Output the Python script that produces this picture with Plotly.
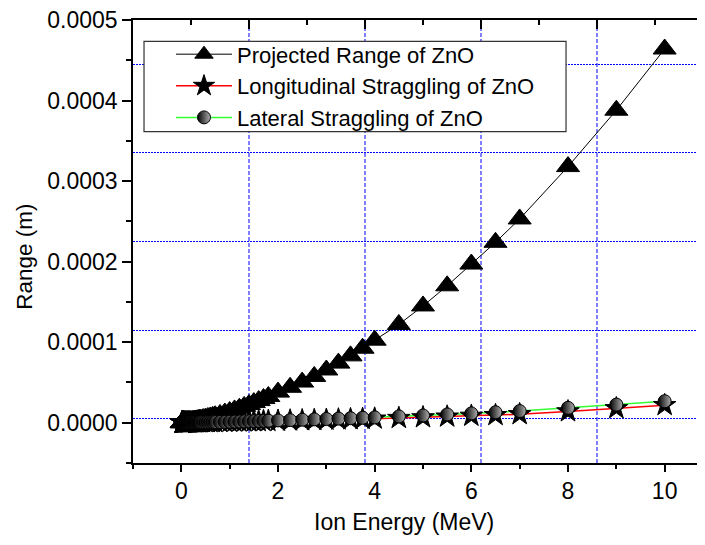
import plotly.graph_objects as go

# Ion energy (MeV)
energy_mev = [0.010, 0.011, 0.012, 0.013, 0.014, 0.015, 0.016, 0.017, 0.018, 0.020,
              0.0225, 0.025, 0.0275, 0.030, 0.0325, 0.035, 0.0375, 0.040, 0.045, 0.050,
              0.055, 0.060, 0.065, 0.070, 0.080, 0.090, 0.100, 0.110, 0.120, 0.130,
              0.140, 0.150, 0.160, 0.170, 0.180, 0.200, 0.225, 0.250, 0.275, 0.300,
              0.325, 0.350, 0.375, 0.400, 0.450, 0.500, 0.550, 0.600, 0.650, 0.700,
              0.800, 0.900, 1.00, 1.10, 1.20, 1.30, 1.40, 1.50, 1.60, 1.70,
              1.80, 2.00, 2.25, 2.50, 2.75, 3.00, 3.25, 3.50, 3.75, 4.00,
              4.50, 5.00, 5.50, 6.00, 6.50, 7.00, 8.00, 9.00, 10.00]

# Projected range (micrometres)
projected_um = [0.145, 0.16, 0.17, 0.18, 0.195, 0.21, 0.22, 0.23, 0.245, 0.27,
                0.30, 0.33, 0.36, 0.39, 0.42, 0.45, 0.48, 0.51, 0.57, 0.63,
                0.68, 0.74, 0.80, 0.85, 0.96, 1.07, 1.18, 1.29, 1.40, 1.50,
                1.62, 1.72, 1.85, 1.95, 2.05, 2.30, 2.55, 2.85, 3.10, 3.40,
                3.70, 4.00, 4.30, 4.60, 5.20, 5.85, 6.50, 7.20, 7.90, 8.70,
                10.3, 12.0, 13.9, 15.9, 18.0, 20.3, 22.6, 25.0, 27.5, 30.0,
                32.6, 38.0, 44.0, 50.5, 57.5, 65.5, 74.0, 83.0, 92.5, 102.5,
                122.0, 145.0, 170.0, 197.0, 224.0, 253.0, 318.0, 388.0, 464.0]

# Longitudinal straggling (micrometres)
longitudinal_um = [0.033, 0.035, 0.037, 0.039, 0.041, 0.043, 0.045, 0.047, 0.049, 0.052,
                   0.056, 0.060, 0.063, 0.066, 0.069, 0.072, 0.075, 0.078, 0.085, 0.090,
                   0.095, 0.100, 0.105, 0.110, 0.120, 0.130, 0.140, 0.150, 0.160, 0.170,
                   0.180, 0.190, 0.200, 0.210, 0.220, 0.240, 0.260, 0.290, 0.310, 0.340,
                   0.360, 0.390, 0.410, 0.440, 0.490, 0.540, 0.590, 0.640, 0.700, 0.750,
                   0.860, 0.980, 1.10, 1.22, 1.33, 1.45, 1.58, 1.70, 1.80, 1.95,
                   2.05, 2.30, 2.60, 2.90, 3.20, 3.55, 3.90, 4.25, 4.60, 5.00,
                   5.80, 6.60, 7.50, 8.50, 9.40, 10.5, 14.0, 17.9, 21.8]

# Lateral straggling (micrometres)
lateral_um = [0.034, 0.036, 0.038, 0.040, 0.042, 0.044, 0.046, 0.048, 0.050, 0.053,
              0.057, 0.060, 0.064, 0.067, 0.070, 0.073, 0.076, 0.079, 0.086, 0.092,
              0.098, 0.104, 0.110, 0.115, 0.125, 0.135, 0.145, 0.155, 0.165, 0.175,
              0.185, 0.195, 0.205, 0.215, 0.225, 0.245, 0.270, 0.300, 0.320, 0.350,
              0.380, 0.400, 0.430, 0.460, 0.510, 0.570, 0.630, 0.690, 0.750, 0.810,
              0.940, 1.08, 1.22, 1.37, 1.52, 1.68, 1.84, 2.00, 2.16, 2.33,
              2.50, 2.85, 3.25, 3.70, 4.15, 4.60, 5.10, 5.60, 6.10, 6.60,
              7.80, 9.00, 10.3, 11.6, 13.0, 14.5, 18.5, 22.5, 26.7]

series_names = ["Projected Range of ZnO", "Longitudinal Straggling of ZnO",
                "Lateral Straggling of ZnO"]

y_tick_vals = [0.0, 0.0001, 0.0002, 0.0003, 0.0004, 0.0005]
y_tick_text = ["0.0000", "0.0001", "0.0002", "0.0003", "0.0004", "0.0005"]
x_tick_vals = [0, 2, 4, 6, 8, 10]

x_range = [-1, 11]
y_range = [-0.00005, 0.0005]

to_m = 1e-6
projected = [v * to_m for v in projected_um]
longitudinal = [v * to_m for v in longitudinal_um]
lateral = [v * to_m for v in lateral_um]

FONT = "Liberation Sans, Arial, sans-serif"

# frame divisions (top / right axes split the ranges into 5 parts)
n_div = 5
x_step = (x_range[1] - x_range[0]) / n_div
y_step = (y_range[1] - y_range[0]) / n_div
top_major = [x_range[0] + k * x_step for k in range(1, n_div)]
right_major = [y_range[0] + k * y_step for k in range(1, n_div)]

line_colors = ["black", "#ff0000", "#33ff33"]
line_widths = [1, 1.5, 1.5]
marker_styles = [
    dict(symbol="triangle-up", size=20, color="black", line=dict(color="black", width=1)),
    dict(symbol="star", size=17, color="black", line=dict(color="black", width=1)),
    dict(symbol="circle", size=13, color="black", line=dict(color="black", width=1),
         gradient=dict(type="horizontal", color="#b0b0b0")),
]
ys = [projected, longitudinal, lateral]

fig = go.Figure()

# connecting lines underneath all markers
for y, c, w in zip(ys, line_colors, line_widths):
    fig.add_trace(go.Scatter(x=energy_mev, y=y, mode="lines",
                             line=dict(color=c, width=w),
                             showlegend=False, hoverinfo="skip"))
# markers
for y, m in zip(ys, marker_styles):
    fig.add_trace(go.Scatter(x=energy_mev, y=y, mode="markers", marker=m,
                             showlegend=False))
# legend entries
for name, c, w, m in zip(series_names, line_colors, line_widths, marker_styles):
    fig.add_trace(go.Scatter(x=[None], y=[None], mode="lines+markers", name=name,
                             line=dict(color=c, width=w), marker=m))

# helper trace for the top/right frame axes
fig.add_trace(go.Scatter(x=[None], y=[None], xaxis="x2", yaxis="y2",
                         showlegend=False, hoverinfo="skip"))

shapes = [dict(type="line", xref="x", yref="paper", x0=xv, x1=xv, y0=0, y1=1,
               line=dict(color="#0000ff", width=1, dash="4px,2px"), layer="below")
          for xv in top_major]
shapes.append(dict(type="rect", xref="paper", yref="paper",
                   x0=0.019, x1=0.7466, y0=0.7479, y1=0.9519,
                   line=dict(color="#333333", width=1.2), fillcolor="white",
                   layer="above"))

fig.update_layout(
    width=705, height=545,
    margin=dict(l=125, r=0, t=12, b=90),
    paper_bgcolor="white", plot_bgcolor="white",
    font=dict(family=FONT, size=23, color="black"),
    showlegend=True,
    legend=dict(x=0.0655, y=0.9698, xanchor="left", yanchor="top",
                bgcolor="rgba(0,0,0,0)", borderwidth=0,
                font=dict(family=FONT, size=22, color="black"),
                itemwidth=56, tracegroupgap=0),
    shapes=shapes,
    xaxis=dict(range=x_range, tickmode="array", tickvals=x_tick_vals,
               ticks="outside", ticklen=7, tickwidth=1.5, tickcolor="black",
               showline=True, linecolor="black", linewidth=1.5,
               showgrid=False, zeroline=False, ticklabeloverflow="allow",
               tickfont=dict(family=FONT, size=23),
               minor=dict(tick0=-1, dtick=1, ticks="outside", ticklen=4,
                          tickwidth=1.5, tickcolor="black", showgrid=False)),
    yaxis=dict(range=y_range, tickmode="array", tickvals=y_tick_vals,
               ticktext=y_tick_text,
               ticks="outside", ticklen=9, tickwidth=1.5, tickcolor="black",
               showline=True, linecolor="black", linewidth=1.5,
               showgrid=False, zeroline=False, ticklabeloverflow="allow",
               tickfont=dict(family=FONT, size=23),
               minor=dict(tick0=0, dtick=0.00005, ticks="outside", ticklen=5,
                          tickwidth=1.5, tickcolor="black", showgrid=False)),
    xaxis2=dict(range=x_range, overlaying="x", side="top", anchor="y",
                tickmode="array", tickvals=top_major,
                ticks="inside", ticklen=9, tickwidth=1.5, tickcolor="black",
                showticklabels=False, showline=True, linecolor="black",
                linewidth=1.5, zeroline=False, showgrid=False,
                minor=dict(tick0=x_range[0] + x_step / 2, dtick=x_step,
                           ticks="inside", ticklen=5,
                           tickwidth=1.5, tickcolor="black", showgrid=False)),
    yaxis2=dict(range=y_range, overlaying="y", side="right", anchor="x",
                tickmode="array", tickvals=right_major,
                ticks="inside", ticklen=10, tickwidth=1.5, tickcolor="black",
                showticklabels=False, showline=True, linecolor="black",
                linewidth=1.5, zeroline=False, showgrid=False,
                minor=dict(tick0=y_range[0] + y_step / 2, dtick=y_step,
                           ticks="inside", ticklen=5, tickwidth=1.5,
                           tickcolor="black",
                           showgrid=True, gridcolor="#0000ff", gridwidth=1,
                           griddash="2px,1px")),
    annotations=[
        dict(text="Ion Energy (MeV)", x=0.4667, y=-0.1339, xref="paper", yref="paper",
             xanchor="center", yanchor="middle", showarrow=False,
             font=dict(family=FONT, size=23, color="black")),
        dict(text="Range (m)", x=-0.1862, y=0.4655, xref="paper", yref="paper",
             xanchor="center", yanchor="middle", showarrow=False, textangle=-90,
             font=dict(family=FONT, size=22.5, color="black")),
    ],
)

fig.write_html("out.html")
